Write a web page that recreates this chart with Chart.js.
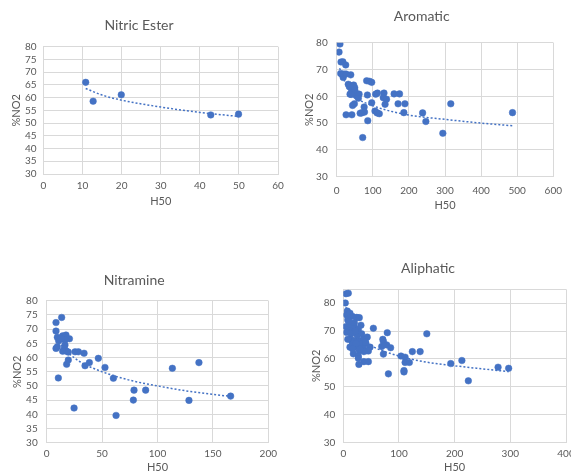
<!DOCTYPE html>
<html>
<head>
    <meta charset='utf-8'>
    <title>H50 vs %NO2</title>
    <script src="https://cdn.jsdelivr.net/npm/chart.js"></script>
    <style>
        body { margin: 0; width: 571px; height: 474px; overflow: hidden; background: #fff; position: relative; }
        canvas { position: absolute; }
    </style>
</head>
<body>
    <canvas id="nitricChart" width="290" height="215" style="left:0;top:0"></canvas>
    <canvas id="aromaticChart" width="281" height="215" style="left:290px;top:0"></canvas>
    <canvas id="nitramineChart" width="290" height="224" style="left:0;top:250px"></canvas>
    <canvas id="aliphaticChart" width="300" height="224" style="left:290px;top:250px"></canvas>
    <script>

        // Nitric Ester
        var nitricX = [10.8, 12.7, 19.9, 42.8, 49.9];
        var nitricY = [66.0, 58.6, 61.1, 53.2, 53.5];
        var nitricTrendX = [10.8, 15, 20, 30, 40, 49.9];
        var nitricTrendY = [63.6, 61.0, 59.0, 56.3, 54.2, 52.6];
        var nitricXTicks = [0, 10, 20, 30, 40, 50, 60];
        var nitricYTicks = [30, 35, 40, 45, 50, 55, 60, 65, 70, 75, 80];

        // Aromatic
        var aromaticX = [9, 6.5, 12, 17, 25, 11, 15, 18, 20, 26, 39,
            32, 35, 38, 41, 44, 47, 50, 50.7, 49, 55, 62, 60, 37, 40,
            83, 91, 97, 85, 108, 113, 131, 129, 138, 159, 174, 134, 97,
            49, 44, 76, 69, 77, 106, 112, 118, 26, 42, 86, 72,
            170, 189, 186, 238, 247, 294, 316, 487, 65, 45];
        var aromaticY = [79.5, 76.5, 72.8, 72.9, 71.7, 68.5, 68.2, 67.0, 68.3, 68.3, 68.0,
            64.5, 63.6, 64.0, 62.6, 63.6, 64.2, 63.2, 62.0, 60.8, 60.1, 60.8, 59.3, 60.8, 60.7,
            65.8, 65.6, 65.2, 60.5, 60.8, 61.2, 61.2, 59.5, 58.9, 60.9, 60.9, 57.0, 57.6,
            57.2, 56.6, 56.0, 53.8, 54.1, 54.5, 53.8, 53.5, 53.1, 53.1, 50.9, 44.6,
            57.2, 57.2, 53.9, 53.8, 50.6, 46.2, 57.2, 53.9, 53.7, 63.8];
        var aromaticTrendX = [8, 25, 50, 100, 200, 300, 400, 487];
        var aromaticTrendY = [70.5, 64.8, 60.0, 56.5, 53.0, 51.4, 50.0, 49.0];
        var aromaticXTicks = [0, 100, 200, 300, 400, 500, 600];
        var aromaticYTicks = [30, 40, 50, 60, 70, 80];

        // Nitramine
        var nitramineX = [8.4, 13.5, 8.4, 9.6, 12, 14.4, 17.4, 20.5, 10.8, 16.5, 13,
            8.4, 9.6, 16.5, 15.9, 14.4, 18, 19.5, 25.6, 28.6, 33.7, 46.6, 19.5, 18,
            34.6, 38.5, 52.6, 60.2, 10.5, 24.7, 62.6, 78.2, 78.8, 89.3, 113.4, 128.4, 137.4, 166];
        var nitramineY = [72.3, 74.1, 69.3, 67.1, 66.4, 67.6, 67.9, 66.6, 65.9, 66.2, 66.8,
            63.2, 63.8, 64.4, 63.2, 62.2, 62.2, 61.9, 62.0, 62.0, 61.5, 59.7, 59.1, 57.6,
            57.1, 58.2, 56.5, 52.7, 52.8, 42.2, 39.6, 45.0, 48.5, 48.5, 56.2, 44.9, 58.2, 46.4];
        var nitramineTrendX = [8.4, 20, 30, 50, 75, 100, 130, 166];
        var nitramineTrendY = [66.5, 61.5, 58.5, 55.0, 52.0, 50.0, 48.0, 46.3];
        var nitramineXTicks = [0, 50, 100, 150, 200];
        var nitramineYTicks = [30, 35, 40, 45, 50, 55, 60, 65, 70, 75, 80];

        // Aliphatic
        var aliphaticX = [4.8, 9, 3.6, 7.2, 6, 12, 16.8, 24, 28.7, 8, 4.8, 9, 15, 19.8, 27, 31.7, 11, 20, 6,
            13.2, 21, 30, 37, 43, 25, 33, 12, 19.2, 27, 33, 40.7, 48, 16, 23, 35, 18, 27, 27, 28.7,
            37, 42, 37, 45, 28, 54, 69, 71, 72, 78, 72, 79, 85, 81, 103.6, 111, 111, 109, 109, 118.6,
            124, 138, 150, 193, 213, 224.6, 278, 297, 10, 14, 22, 8, 17, 30, 40, 45];
        var aliphaticY = [83.4, 83.6, 80.1, 77.2, 75.8, 76.4, 75.2, 74.9, 74.8, 74.0, 71.6, 70.4, 70.4, 71.4, 70.6, 72.1, 72.5, 73.0, 69.5,
            67.1, 66.6, 66.6, 67.3, 67.8, 68.5, 69.0, 64.2, 65.0, 64.4, 65.4, 65.4, 64.2, 66.0, 65.5, 63.8, 61.8, 61.0, 60.2, 62.9,
            62.6, 63.0, 59.0, 59.0, 58.0, 71.0, 64.4, 67.0, 66.2, 65.0, 61.7, 69.4, 64.0, 54.6, 61.0, 60.6, 58.7, 55.8, 55.3, 58.7,
            62.6, 62.6, 69.0, 58.3, 59.4, 52.1, 57.0, 56.6, 73.5, 69.0, 70.0, 67.0, 63.5, 63.5, 66.0, 62.8];
        var aliphaticTrendX = [3.6, 10, 25, 50, 100, 150, 200, 250, 297];
        var aliphaticTrendY = [80.0, 73.5, 68.0, 64.7, 61.0, 58.8, 57.5, 56.4, 55.4];
        var aliphaticXTicks = [0, 100, 200, 300, 400];
        var aliphaticYTicks = [30, 40, 50, 60, 70, 80, 85];  // 85 = top gridline, no label

        const BLUE = '#4472c4';
        const GREY_TEXT = '#595959';
        const GRID = '#d9d9d9';

        function toPoints(xs, ys) {
            return xs.map((x, i) => ({ x: x, y: ys[i] }));
        }

        function makeChart(id, s) {
            const ctx = document.getElementById(id).getContext('2d');
            return new Chart(ctx, {
                type: 'scatter',
                data: {
                    datasets: [{
                        data: toPoints(s.xs, s.ys),
                        backgroundColor: BLUE,
                        borderColor: BLUE,
                        borderWidth: 0.5,
                        pointRadius: 3.3,
                    }, {
                        data: toPoints(s.tx, s.ty),
                        showLine: true,
                        borderColor: BLUE,
                        borderWidth: 1.5,
                        borderDash: [2, 2],
                        pointRadius: 0,
                        cubicInterpolationMode: 'monotone',
                    }]
                },
                options: {
                    responsive: false,
                    animation: false,
                    events: [],
                    layout: { padding: { left: 0, right: s.right, top: 0, bottom: 0 } },
                    plugins: {
                        legend: { display: false },
                        tooltip: { enabled: false },
                        title: {
                            display: true,
                            text: s.title,
                            color: GREY_TEXT,
                            font: { family: 'Lato', size: 14, weight: 'normal' },
                            padding: { top: s.titleTop, bottom: s.titleBottom },
                        }
                    },
                    scales: {
                        x: {
                            type: 'linear',
                            min: s.x.min, max: s.x.max,
                            grid: { color: GRID, drawTicks: false },
                            border: { color: GRID },
                            ticks: { autoSkip: false, padding: s.x.pad, color: GREY_TEXT, font: { family: 'Lato', size: 10 } },
                            afterBuildTicks: (scale) => { scale.ticks = s.x.ticks.map(v => ({ value: v })); },
                            title: { display: true, text: 'H50', color: GREY_TEXT, font: { family: 'Lato', size: 11 }, padding: { top: 0, bottom: s.x.titlePad } },
                            afterFit: (scale) => { scale.height = s.x.size; },
                        },
                        y: {
                            min: s.y.min, max: s.y.max,
                            grid: { color: GRID, drawTicks: false },
                            border: { color: GRID },
                            ticks: {
                                autoSkip: false, padding: s.y.pad, color: GREY_TEXT, font: { family: 'Lato', size: 10 },
                                callback: (v) => (v % s.y.step === 0 ? v : ''),
                            },
                            afterBuildTicks: (scale) => { scale.ticks = s.y.ticks.map(v => ({ value: v })); },
                            title: { display: true, text: '%NO2', color: GREY_TEXT, font: { family: 'Lato', size: 11 }, padding: { top: s.y.titlePad, bottom: 0 } },
                            afterFit: (scale) => { scale.width = s.y.size; },
                        }
                    }
                }
            });
        }

        makeChart('nitricChart', {
            title: 'Nitric Ester', titleTop: 16.6, titleBottom: 13.3, right: 12,
            xs: nitricX, ys: nitricY, tx: nitricTrendX, ty: nitricTrendY,
            x: { min: 0, max: 60, ticks: nitricXTicks, size: 41, pad: 6, titlePad: 7.4 },
            y: { min: 30, max: 80, ticks: nitricYTicks, step: 5, size: 43.5, pad: 7, titlePad: 9.4 },
        });

        makeChart('aromaticChart', {
            title: 'Aromatic', titleTop: 7.6, titleBottom: 18.3, right: 17.7,
            xs: aromaticX, ys: aromaticY, tx: aromaticTrendX, ty: aromaticTrendY,
            x: { min: 0, max: 600, ticks: aromaticXTicks, size: 38.3, pad: 8, titlePad: 3.4 },
            y: { min: 30, max: 80, ticks: aromaticYTicks, step: 10, size: 46.7, pad: 9, titlePad: 12.7 },
        });

        makeChart('nitramineChart', {
            title: 'Nitramine', titleTop: 21.6, titleBottom: 12.3, right: 21.7,
            xs: nitramineX, ys: nitramineY, tx: nitramineTrendX, ty: nitramineTrendY,
            x: { min: 0, max: 200, ticks: nitramineXTicks, size: 31.3, pad: 5, titlePad: 0 },
            y: { min: 30, max: 80, ticks: nitramineYTicks, step: 5, size: 46.7, pad: 9, titlePad: 10.4 },
        });

        makeChart('aliphaticChart', {
            title: 'Aliphatic', titleTop: 9.9, titleBottom: 12.6, right: 24,
            xs: aliphaticX, ys: aliphaticY, tx: aliphaticTrendX, ty: aliphaticTrendY,
            x: { min: 0, max: 400, ticks: aliphaticXTicks, size: 31.7, pad: 5.5, titlePad: 0 },
            y: { min: 30, max: 85, ticks: aliphaticYTicks, step: 10, size: 53.3, pad: 8, titlePad: 19.4 },
        });

    </script>
</body>
</html>
